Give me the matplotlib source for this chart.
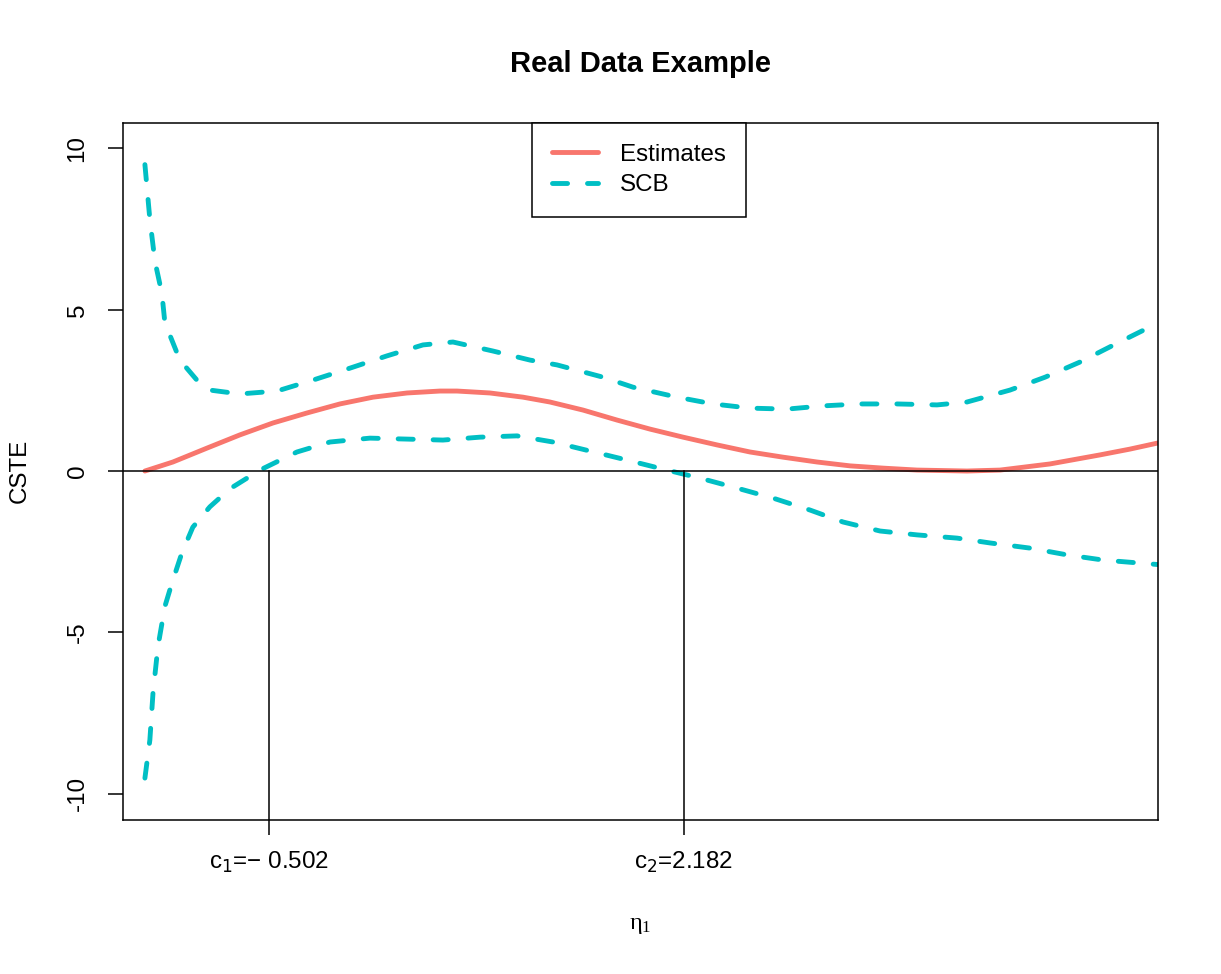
import matplotlib
matplotlib.use("Agg")
import matplotlib.pyplot as plt

plt.rcParams['font.family'] = ['Liberation Sans', 'DejaVu Sans']

# cut points
cuts = [-0.502, 2.182]
cut_labels = [r'c$_1$=' + '\u2212 0.502', r'c$_2$=2.182']

# estimated CSTE curve
est_x = [-1.304, -1.123, -0.903, -0.690, -0.476, -0.256, -0.043, 0.171, 0.391,
         0.604, 0.714, 0.927, 1.141, 1.315, 1.529, 1.749, 1.962, 2.176, 2.395,
         2.609, 2.822, 3.042, 3.256, 3.469, 3.689, 4.012, 4.226, 4.549, 4.872,
         5.066, 5.247]
est_y = [0.0, 0.28, 0.71, 1.12, 1.49, 1.80, 2.08, 2.29, 2.42,
         2.48, 2.48, 2.42, 2.29, 2.14, 1.89, 1.58, 1.30, 1.05, 0.81,
         0.59, 0.43, 0.28, 0.16, 0.09, 0.03, 0.0, 0.03, 0.22, 0.50,
         0.68, 0.87]

# upper simultaneous confidence band
up_x = [-1.304, -1.272, -1.239, -1.194, -1.175, -1.078, -0.968, -0.884, -0.690,
        -0.450, -0.217, 0.022, 0.261, 0.494, 0.688, 0.947, 1.186, 1.361, 1.658,
        1.852, 2.137, 2.370, 2.609, 2.848, 3.081, 3.320, 3.560, 3.818, 4.012,
        4.290, 4.517, 4.743, 4.957, 5.247]
up_y = [9.5, 7.8, 6.5, 5.5, 4.6, 3.44, 2.82, 2.51, 2.39,
        2.48, 2.82, 3.19, 3.57, 3.91, 4.00, 3.72, 3.44, 3.29, 2.91,
        2.60, 2.29, 2.08, 1.95, 1.92, 2.02, 2.08, 2.08, 2.05, 2.14,
        2.51, 2.91, 3.38, 3.90, 4.59]

# lower simultaneous confidence band
lo_x = [-1.304, -1.272, -1.252, -1.220, -1.175, -1.129, -1.065, -0.994, -0.884,
        -0.754, -0.560, -0.321, -0.107, 0.151, 0.391, 0.623, 0.863, 1.102,
        1.335, 1.574, 1.813, 2.046, 2.285, 2.525, 2.758, 2.997, 3.210, 3.450,
        3.689, 3.948, 4.161, 4.420, 4.659, 4.892, 5.247]
lo_y = [-9.52, -8.34, -6.9, -5.45, -4.2, -3.47, -2.54, -1.74, -1.11,
        -0.55, 0.03, 0.59, 0.90, 1.02, 0.99, 0.96, 1.05, 1.09,
        0.90, 0.62, 0.34, 0.06, -0.22, -0.53, -0.84, -1.21, -1.58, -1.86,
        -1.98, -2.08, -2.23, -2.39, -2.60, -2.76, -2.90]

yticks = [-10, -5, 0, 5, 10]

red = '#F8766D'
cyan = '#00BFC4'
fs = 17.4

fig = plt.figure(figsize=(12.21, 9.74), dpi=100)
ax = fig.add_axes([0.1007, 0.1581, 0.8477, 0.7156])

ax.plot(est_x, est_y, color=red, lw=3.5, solid_capstyle='round',
        solid_joinstyle='round', label='Estimates')
ax.plot(up_x, up_y, color=cyan, lw=3.5, dashes=(3.1, 4.1),
        dash_capstyle='round', dash_joinstyle='round', label='SCB')
ax.plot(lo_x, lo_y, color=cyan, lw=3.5, dashes=(3.1, 4.1),
        dash_capstyle='round', dash_joinstyle='round')

ax.axhline(0, color='black', lw=1.1)
for c in cuts:
    ax.plot([c, c], [0, -10.82], color='black', lw=1.1)

ax.set_xlim(-1.446, 5.247)
ax.set_ylim(-10.82, 10.79)

ax.set_yticks(yticks)
ax.set_yticklabels([str(t) for t in yticks], rotation=90, va='center', fontsize=fs)
ax.set_xticks(cuts)
ax.set_xticklabels(cut_labels, fontsize=fs)
ax.tick_params(axis='y', length=10.8, width=1.1, pad=14)
ax.tick_params(axis='x', length=10.8, width=1.1, pad=11)
for s in ax.spines.values():
    s.set_linewidth(1.1)

leg = ax.legend(loc='upper center', bbox_to_anchor=(0.4986, 1.0), fontsize=fs,
                fancybox=False, framealpha=1, edgecolor='black',
                handlelength=1.9, handletextpad=0.9, borderpad=0.85,
                labelspacing=0.35, borderaxespad=0)
leg.get_frame().set_linewidth(1.1)

fig.text(0.5246, 0.9343, 'Real Data Example', ha='center', va='center',
         fontsize=21, fontweight='bold')
fig.text(0.0164, 0.5164, 'CSTE', rotation=90, ha='center', va='center', fontsize=fs)
fig.text(0.5246, 0.0503, r'η$\mathregular{_1}$', ha='center', va='center',
         fontsize=fs, family=['Liberation Serif', 'DejaVu Serif'])

fig.savefig('out.png', dpi=100)
